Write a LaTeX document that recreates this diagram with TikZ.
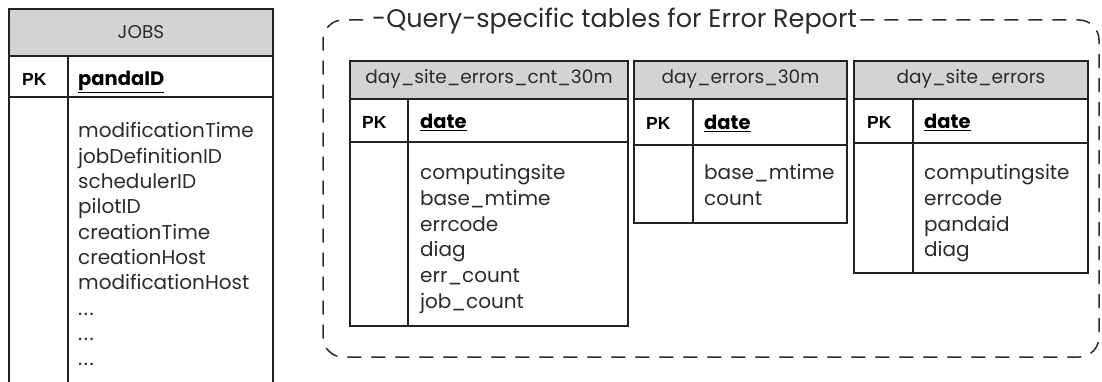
\documentclass[tikz,border=0pt]{standalone}
\usepackage{fontspec}
\setmainfont{Poppins}
\newfontfamily\pkfont{Liberation Sans}
\definecolor{txt}{HTML}{2B2B2B}
\definecolor{hdrgrey}{HTML}{D3D3D3}
\definecolor{lin}{HTML}{222222}
\newcommand\mytable[7]{%
  \filldraw[hdrbox] (#1,#4) rectangle (#3,#5);
  \draw[tb] (#1,#5) rectangle (#3,#7);
  \draw[tb] (#1,#6) -- (#3,#6);
  \draw[tb] (#2,#5) -- (#2,#7);
}
\begin{document}
\begin{tikzpicture}[x=1pt,y=-1pt,
  tb/.style={draw=lin, line width=1.6pt},
  hdrbox/.style={tb, fill=hdrgrey},
  htext/.style={anchor=base, inner sep=0pt, text=txt, font=\fontsize{18.5}{22}\selectfont},
  pktext/.style={anchor=base west, inner sep=0pt, text=black, font=\pkfont\bfseries\fontsize{17.5}{20}\selectfont},
  keytext/.style={anchor=base west, inner sep=0pt, text=black, font=\bfseries\fontsize{19.5}{22}\selectfont},
  field/.style={anchor=base west, inner sep=0pt, text=txt, font=\fontsize{20}{24}\selectfont},
  frame/.style={draw=txt, line width=1.5pt, dash pattern=on 14pt off 10pt, rounded corners=20pt},
  ttext/.style={anchor=base west, inner sep=0pt, text=txt, font=\fontsize{25.5}{28}\selectfont}
]
\path[use as bounding box] (0,0) rectangle (1102,382);
\clip (0,0) rectangle (1102,382);

% JOBS table
\mytable{9}{68}{273}{9}{56}{97}{400}
\node[htext] (jobs-h) at (141,38.5) {JOBS};
\node[pktext] (jobs-pk) at (22,86) {PK};
\node[keytext] (jobs-key) at (78,86) {\underline{pandaID}};
\foreach [count=\i from 0] \t in {modificationTime,jobDefinitionID,schedulerID,pilotID,creationTime,creationHost,modificationHost,{.\kern1.5pt.\kern1.5pt.},{.\kern1.5pt.\kern1.5pt.},{.\kern1.5pt.\kern1.5pt.}}
  \node[field] (jobs-f\i) at (78,{138+25.3*\i}) {\t};

% dashed frame with title
\coordinate (tl) at (323,20);
\coordinate (br) at (1099,357);
\node[ttext] (title) at (372,28) {-Query-specific tables for Error Report};
\draw[frame] ([xshift=-9pt]title.west |- tl) -- (tl) -- (tl |- br) -- (br) -- (br |- tl) -- ([xshift=1pt]title.east |- tl);

% day_site_errors_cnt_30m
\mytable{350}{408}{628}{61}{99}{142}{326}
\node[htext] (t1-h) at (489,84) {day\_site\_errors\_cnt\_30m};
\node[pktext] (t1-pk) at (362,129) {PK};
\node[keytext] (t1-key) at (420,129) {\underline{date}};
\foreach [count=\i from 0] \t in {computingsite,base\_mtime,errcode,diag,err\_count,job\_count}
  \node[field] (t1-f\i) at (420,{180+25.6*\i}) {\t};

% day_errors_30m
\mytable{634}{693}{847}{61}{99}{145}{223}
\node[htext] (t2-h) at (740.5,84) {day\_errors\_30m};
\node[pktext] (t2-pk) at (646,130) {PK};
\node[keytext] (t2-key) at (704,130) {\underline{date}};
\foreach [count=\i from 0] \t in {base\_mtime,count}
  \node[field] (t2-f\i) at (704,{180+25.6*\i}) {\t};

% day_site_errors
\mytable{854}{913}{1088}{61}{99}{143}{273}
\node[htext] (t3-h) at (971,84) {day\_site\_errors};
\node[pktext] (t3-pk) at (867,129) {PK};
\node[keytext] (t3-key) at (924,129) {\underline{date}};
\foreach [count=\i from 0] \t in {computingsite,errcode,pandaid,diag}
  \node[field] (t3-f\i) at (924,{180+25.6*\i}) {\t};
\end{tikzpicture}
\end{document}
